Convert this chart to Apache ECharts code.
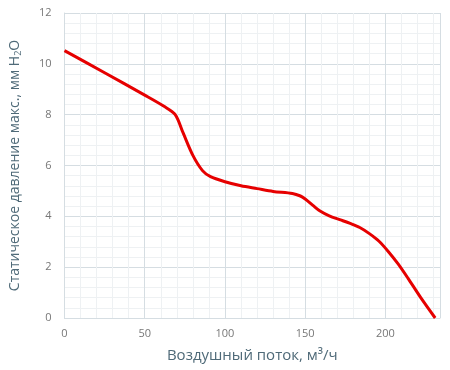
<!DOCTYPE html>
<html><head><meta charset="utf-8">
<script src="https://cdn.jsdelivr.net/npm/echarts@6/dist/echarts.min.js"></script>
<style>html,body{margin:0;padding:0;background:#fff}#c{width:450px;height:370px}</style>
</head><body><div id="c"></div>
<script>
const flow = [0, 25, 50, 62, 69, 74, 80, 86, 91, 100, 110, 120, 130, 142, 147, 150, 155, 159, 165, 172, 178, 184, 190, 196, 202, 208, 214, 222, 231];
const pressure = [10.52, 9.65, 8.77, 8.33, 8.0, 7.27, 6.4, 5.8, 5.56, 5.36, 5.2, 5.09, 4.98, 4.9, 4.8, 4.68, 4.42, 4.22, 4.02, 3.86, 3.72, 3.56, 3.32, 3.02, 2.6, 2.12, 1.57, 0.8, 0];
const xTicks = [0, 50, 100, 150, 200];
const yTicks = [0, 2, 4, 6, 8, 10, 12];
const xName = 'Воздушный поток, м³/ч';
const yName = 'Статическое давление макс., мм H{sub|2}O';

const chart = echarts.init(document.getElementById('c'));
const gridColor = '#d5dde2';
const minorColor = '#eef1f3';
chart.setOption({
  animation: false,
  textStyle: {fontFamily: 'Open Sans'},
  grid: {left: 63, right: 10, top: 13, bottom: 52},
  xAxis: {
    type: 'value', min: 0, max: 234, interval: 50,
    name: xName, nameLocation: 'middle', nameGap: 30,
    nameTextStyle: {color: '#4f6a78', fontSize: 15, fontFamily: 'Open Sans'},
    axisLine: {show: true, lineStyle: {color: gridColor}},
    axisTick: {show: false},
    axisLabel: {color: '#777', fontSize: 11, margin: 10, showMaxLabel: false,
      formatter: v => xTicks.includes(v) ? String(v) : ''},
    splitLine: {show: true, lineStyle: {color: gridColor}},
    minorTick: {show: false, splitNumber: 5},
    minorSplitLine: {show: true, lineStyle: {color: minorColor}}
  },
  yAxis: {
    type: 'value', min: 0, max: 12, interval: 2,
    name: yName, nameLocation: 'middle', nameGap: 42,
    nameTextStyle: {color: '#4f6a78', fontSize: 14, fontFamily: 'Open Sans',
      rich: {sub: {fontSize: 9, verticalAlign: 'bottom', padding: [6, 0, 0, 0], color: '#4f6a78'}}},
    axisLine: {show: true, lineStyle: {color: gridColor}},
    axisTick: {show: false},
    axisLabel: {color: '#777', fontSize: 11, margin: 13,
      formatter: v => yTicks.includes(v) ? String(v) : ''},
    splitLine: {show: true, lineStyle: {color: gridColor}},
    minorTick: {show: false, splitNumber: 5},
    minorSplitLine: {show: true, lineStyle: {color: minorColor}}
  },
  series: [{
    type: 'line', smooth: 0.3, symbol: 'none',
    data: flow.map((x, i) => [x, pressure[i]]),
    lineStyle: {color: '#e60000', width: 3}
  }]
});
</script></body></html>
